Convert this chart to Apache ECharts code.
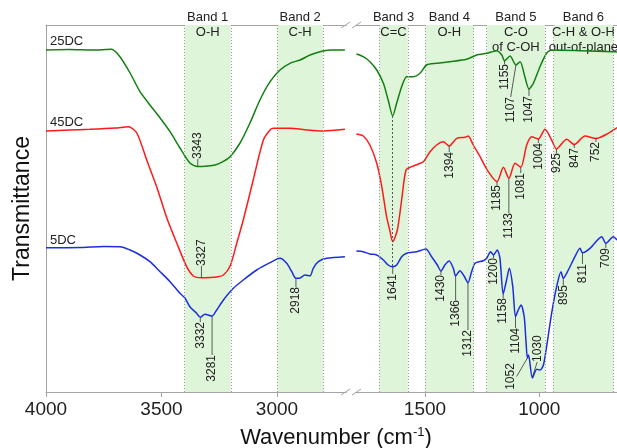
<!DOCTYPE html>
<html>
<head>
<meta charset="utf-8">
<script src="https://cdn.jsdelivr.net/npm/echarts@6/dist/echarts.min.js"></script>
<style>
  html, body { margin: 0; padding: 0; background: #fff; }
  #chart { width: 617px; height: 448px; }
</style>
</head>
<body>
<div id="chart"></div>
<script>
// wavenumber (cm-1), transmittance (arbitrary, offset per sample)
const t25Left = [[4000,342],[3900,342.5],[3800,342],[3716,342.7],[3680,335.3],[3636,319],[3593,300.3],[3550,287],[3506,274],[3463,260.3],[3420,244],[3377,229],[3343,225.5],[3300,226],[3268,227],[3234,230.3],[3203,235.3],[3160,249],[3117,269],[3074,292],[3030,310.3],[2987,322],[2944,328.7],[2900,332],[2857,337],[2814,340.3],[2771,342],[2706,342]];
const t45Left = [[4000,261],[3900,262],[3810,262.7],[3700,264],[3644,265.3],[3607,259],[3564,232],[3521,205.3],[3477,174],[3434,149],[3391,125.3],[3362,116],[3327,114.3],[3290,114.5],[3261,115],[3232,117],[3203,126],[3174,149],[3146,172],[3103,212],[3059,252],[3030,262],[3016,263.7],[2944,263.7],[2870,262],[2801,261],[2706,262.7]];
const t5Left = [[4000,144.3],[3850,144.5],[3750,145.5],[3680,145.3],[3636,142],[3593,137],[3550,130.3],[3506,120.3],[3463,110.3],[3420,98.7],[3398,93.7],[3377,85.3],[3348,78.7],[3332,74.7],[3312,77.7],[3281,76],[3261,82],[3232,92],[3189,103.7],[3146,112],[3088,122],[3030,129.3],[2987,133.7],[2958,128.7],[2936,120.3],[2918,113.7],[2900,114],[2879,117],[2857,116],[2843,123.7],[2821,130.3],[2785,133.7],[2706,135.3]];

const t25Right = [[1800,338],[1770,335.3],[1741,330.3],[1711,322],[1682,308.7],[1661,292],[1641,276],[1624,288.7],[1602,305.3],[1580,315.3],[1551,315.3],[1522,318.7],[1493,327],[1449,328.7],[1391,330.3],[1318,332.7],[1274,337],[1230,338.7],[1186,341.3],[1164,337],[1152,331.3],[1128,336],[1102,327],[1084,330.3],[1063,315.3],[1045,303],[1026,308.7],[997,325.3],[968,338.7],[946,342],[822,341.3],[676,340.3],[660,340]];
const t45Right = [[1800,258],[1770,256],[1741,247],[1711,228.7],[1689,205.3],[1668,175.3],[1656,163.7],[1641,150.3],[1621,162],[1602,192],[1583,222],[1558,225.3],[1529,228],[1507,230.3],[1478,240.3],[1449,247],[1420,250.3],[1394,246],[1361,253.7],[1325,254.7],[1311,256],[1289,247],[1259,235.3],[1223,220.3],[1185,210.3],[1157,224.7],[1133,213.7],[1106,228.7],[1081,224.7],[1055,247],[1033,255.3],[1004,253],[975,262.7],[946,252],[925,243],[880,252.7],[847,247.5],[800,256],[752,253.5],[698,258.7],[660,264.3]];
const t5Right = [[1800,141],[1770,140.3],[1741,138],[1711,137],[1682,132],[1661,127],[1641,125.3],[1624,127],[1602,135.3],[1580,138.7],[1536,140.3],[1496,143],[1471,135.3],[1446,127],[1430,121],[1413,127],[1394,131],[1376,123.7],[1366,116],[1347,121.3],[1329,116],[1312,109.3],[1296,120.3],[1281,128.7],[1245,131.3],[1230,133.7],[1213,140.3],[1200,137],[1184,142],[1172,133.7],[1158,98],[1143,112],[1131,123.7],[1116,105.3],[1104,75.3],[1092,82],[1080,87],[1066,75.3],[1058,50],[1052,34],[1047,37],[1030,14],[1011,22.7],[997,22],[982,27],[968,45.3],[946,78.7],[924,105.3],[905,120.3],[895,113.7],[873,122],[844,135.3],[822,143.7],[811,139.3],[778,143.7],[727,155.3],[709,148.7],[676,155.3],[660,152]];

// band ranges and captions
const bandsLeft = [[3400,3200,'Band 1',['O-H']],[3000,2800,'Band 2',['C-H']]];
const bandsRight = [[1700,1575,'Band 3',['C=C']],[1500,1287,'Band 4',['O-H']],[1230,975,'Band 5',['C-O','of C-OH']],[939,675,'Band 6',['C-H & O-H','out-of-plane']]];

// peak labels: text, wn, curve value, leader end wn, leader end value, [text centre wn]
const peaksLeft = [
  ['3343',3343,226,3343,233],
  ['3327',3327,114.5,3327,126],
  ['3332',3332,74.5,3332,70],
  ['3281',3281,76,3281,37],
  ['2918',2918,113.5,2918,105]
];
const peaksRight = [
  ['1155',1152,331,1152,328],
  ['1107',1102,327,1125,295],
  ['1047',1045,303,1045,296],
  ['1394',1394,246,1394,240],
  ['1185',1185,210,1185,207],
  ['1133',1133,213.5,1133,179],
  ['1081',1081,224.5,1081,219],
  ['1004',1004,253,1004,249],
  ['925',925,243,925,239],
  ['847',847,247.5,847,244],
  ['752',752,253.5,752,250],
  ['1641',1641,125,1641,118],
  ['1430',1430,121,1430,117],
  ['1366',1366,116,1366,92],
  ['1312',1312,109,1312,62],
  ['1200',1200,137,1200,134],
  ['1158',1158,98,1158,94],
  ['1104',1104,75,1104,64],
  ['1052',1052,34,1099,15.5,1125],
  ['1030',1030,15,1009,30],
  ['895',895,113.5,895,107],
  ['811',811,139,811,128],
  ['709',709,148.5,709,144]
];
const sampleNames = [['25DC',3983,344],['45DC',3983,263],['5DC',3983,145]];

const FONT = '"Liberation Sans", Arial, sans-serif';
const GRAY = '#a3a3a3';
const GREEN = '#118011';
const RED = '#ff1a1a';
const BLUE = '#1c2fe0';

var chart = echarts.init(document.getElementById('chart'));

function bandArea(bands) {
  return {
    silent: true,
    itemStyle: { color: '#dff5da' },
    label: {
      show: true, position: 'insideTop', distance: 0, offset: [0, -15],
      color: '#222', fontSize: 13, fontFamily: FONT, lineHeight: 15
    },
    data: bands.map(b => [
      { xAxis: b[0], label: { formatter: [b[2]].concat(b[3]).join('\n') } },
      { xAxis: b[1] }
    ])
  };
}
function bandEdges(bands, extra) {
  let d = [];
  bands.forEach(b => { d.push({ xAxis: b[0] }); d.push({ xAxis: b[1] }); });
  return {
    silent: true, symbol: 'none', animation: false,
    label: { show: false },
    lineStyle: { type: [1, 2], color: '#9a9a9a', width: 1 },
    data: d.concat(extra || [])
  };
}

function peakSeries(list, idx) {
  return {
    type: 'custom', xAxisIndex: idx, yAxisIndex: idx, z: 5, silent: true,
    data: list.map(a => [a[1], a[2]]),
    renderItem: function (params, api) {
      const a = list[params.dataIndex];
      const p0 = api.coord([a[1], a[2]]);
      const p1 = api.coord([a[3], a[4]]);
      let tx = p1[0], ty = p1[1], align;
      if (a.length > 5) {
        tx = api.coord([a[5], a[4]])[0];
        align = 'center';
      } else {
        align = a[4] > a[2] ? 'left' : 'right';
      }
      return {
        type: 'group',
        children: [
          { type: 'line', shape: { x1: p0[0], y1: p0[1], x2: p1[0], y2: p1[1] },
            style: { stroke: '#333', lineWidth: 0.8 } },
          { type: 'text', x: tx, y: ty, rotation: Math.PI / 2,
            style: { text: a[0], fill: '#222', font: '12px ' + FONT,
                     align: align, verticalAlign: 'middle',
                     textAlign: align, textVerticalAlign: 'middle' } }
        ]
      };
    }
  };
}

const lineBase = { type: 'line', showSymbol: false, smooth: 0.25, animation: false };

function xAx(idx, min, max, ticks, pos) {
  const top = pos === 'top';
  return {
    gridIndex: idx, type: 'value', inverse: true, min: min, max: max, position: pos,
    axisLine: { show: true, onZero: false, lineStyle: { color: GRAY, width: 1 } },
    axisTick: { show: !top, length: 5, customValues: ticks, lineStyle: { color: GRAY } },
    axisLabel: { show: !top, customValues: ticks, fontSize: 19, color: '#222', margin: 8,
                 fontFamily: FONT, formatter: v => String(v) },
    splitLine: { show: false }
  };
}

var option = {
  animation: false,
  backgroundColor: '#fff',
  grid: [
    { left: 46, top: 25, width: 300.3, height: 367, outerBoundsMode: 'none' },
    { left: 356.4, top: 25, width: 260.6, height: 367, outerBoundsMode: 'none' }
  ],
  title: {
    text: 'Wavenumber (cm{sup|-1})',
    left: 331, top: 421, textAlign: 'center',
    textStyle: {
      fontSize: 22, fontWeight: 'normal', color: '#111', fontFamily: FONT,
      rich: { sup: { fontSize: 13, color: '#111', fontFamily: FONT, padding: [0, 0, 11, 0] } }
    }
  },
  xAxis: [
    xAx(0, 2700, 4000, [3000, 3500, 4000], 'bottom'),
    xAx(1, 660, 1800, [1000, 1500], 'bottom'),
    xAx(0, 2700, 4000, [], 'top'),
    xAx(1, 660, 1800, [], 'top')
  ],
  yAxis: [
    { gridIndex: 0, type: 'value', min: 0, max: 367,
      axisLine: { show: true, lineStyle: { color: GRAY } }, axisTick: { show: false },
      axisLabel: { show: false }, splitLine: { show: false },
      name: 'Transmittance', nameLocation: 'middle', nameGap: 12,
      nameTextStyle: { fontSize: 23, color: '#111', fontFamily: FONT } },
    { gridIndex: 1, type: 'value', min: 0, max: 367,
      axisLine: { show: false }, axisTick: { show: false },
      axisLabel: { show: false }, splitLine: { show: false } }
  ],
  series: [
    Object.assign({}, lineBase, { name: '25DC', xAxisIndex: 0, yAxisIndex: 0, data: t25Left,
      lineStyle: { color: GREEN, width: 1.5 }, itemStyle: { color: GREEN },
      markArea: bandArea(bandsLeft), markLine: bandEdges(bandsLeft) }),
    Object.assign({}, lineBase, { name: '45DC', xAxisIndex: 0, yAxisIndex: 0, data: t45Left,
      lineStyle: { color: RED, width: 1.5 }, itemStyle: { color: RED } }),
    Object.assign({}, lineBase, { name: '5DC', xAxisIndex: 0, yAxisIndex: 0, data: t5Left,
      lineStyle: { color: BLUE, width: 1.5 }, itemStyle: { color: BLUE } }),
    Object.assign({}, lineBase, { name: '25DC', xAxisIndex: 1, yAxisIndex: 1, data: t25Right,
      lineStyle: { color: GREEN, width: 1.5 }, itemStyle: { color: GREEN },
      markArea: bandArea(bandsRight),
      markLine: bandEdges(bandsRight, [[
        { coord: [1641, 276], lineStyle: { color: '#555', type: [2, 2], width: 1 } },
        { coord: [1641, 125.3] }
      ]]) }),
    Object.assign({}, lineBase, { name: '45DC', xAxisIndex: 1, yAxisIndex: 1, data: t45Right,
      lineStyle: { color: RED, width: 1.5 }, itemStyle: { color: RED } }),
    Object.assign({}, lineBase, { name: '5DC', xAxisIndex: 1, yAxisIndex: 1, data: t5Right,
      lineStyle: { color: BLUE, width: 1.5 }, itemStyle: { color: BLUE } }),
    peakSeries(peaksLeft, 0),
    peakSeries(peaksRight, 1),
    {
      type: 'custom', xAxisIndex: 0, yAxisIndex: 0, silent: true, z: 5,
      data: sampleNames.map(s => [s[1], s[2]]),
      renderItem: function (params, api) {
        const s = sampleNames[params.dataIndex];
        const p = api.coord([s[1], s[2]]);
        return { type: 'text', x: p[0], y: p[1],
          style: { text: s[0], fill: '#222', font: '13px ' + FONT,
                   align: 'left', verticalAlign: 'bottom', textAlign: 'left', textVerticalAlign: 'bottom' } };
      }
    }
  ],
  graphic: [
    { type: 'line', shape: { x1: 341, y1: 28, x2: 350, y2: 22 }, style: { stroke: GRAY, lineWidth: 1 } },
    { type: 'line', shape: { x1: 352, y1: 28, x2: 361, y2: 22 }, style: { stroke: GRAY, lineWidth: 1 } },
    { type: 'line', shape: { x1: 341, y1: 395, x2: 350, y2: 389 }, style: { stroke: GRAY, lineWidth: 1 } },
    { type: 'line', shape: { x1: 352, y1: 395, x2: 361, y2: 389 }, style: { stroke: GRAY, lineWidth: 1 } }
  ]
};
chart.setOption(option);
</script>
</body>
</html>
